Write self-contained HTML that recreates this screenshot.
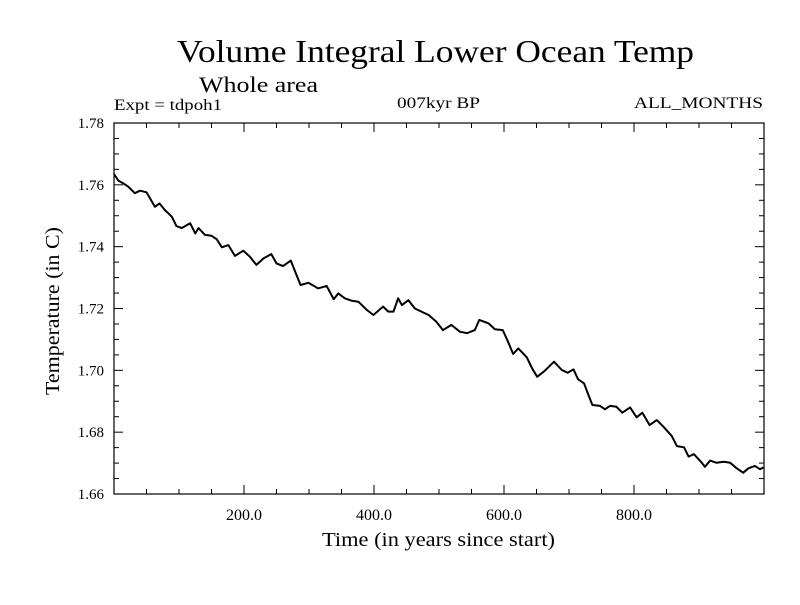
<!DOCTYPE html>
<html><head><meta charset="utf-8"><style>
html,body{margin:0;padding:0;background:#fff;}
svg text{font-family:"Liberation Serif",serif;fill:#000;}
</style></head><body>
<svg id="chart" width="800" height="600" viewBox="0 0 800 600" xmlns="http://www.w3.org/2000/svg">
<rect x="0" y="0" width="800" height="600" fill="#fff"/>
<text x="177" y="62" font-size="32" textLength="517" lengthAdjust="spacingAndGlyphs">Volume Integral Lower Ocean Temp</text>
<text x="199" y="92" font-size="22" textLength="119" lengthAdjust="spacingAndGlyphs">Whole area</text>
<text x="114" y="110" font-size="16" textLength="108" lengthAdjust="spacingAndGlyphs">Expt = tdpoh1</text>
<text x="397" y="108" font-size="16" textLength="83" lengthAdjust="spacingAndGlyphs">007kyr BP</text>
<text x="634" y="108" font-size="16" textLength="129" lengthAdjust="spacingAndGlyphs">ALL_MONTHS</text>
<text x="322" y="546" font-size="20" textLength="233" lengthAdjust="spacingAndGlyphs">Time (in years since start)</text>
<text x="0" y="0" font-size="20" transform="translate(59,395) rotate(-90)" textLength="168" lengthAdjust="spacingAndGlyphs">Temperature (in C)</text>
<g id="axes"></g>
<path id="series" fill="none" stroke="#000" stroke-width="2" stroke-linejoin="round"/>
<rect x="114" y="123" width="650" height="371" fill="none" stroke="#000" stroke-width="1.2"/>
</svg>
<script>
const years = [0,7,14,22,32,40,50,63,70,78,89,96,104,117,125,130,140,150,158,166,176,186,199,209,219,230,242,250,260,272,287,299,314,327,338,345,355,366,376,389,399,414,422,430,437,443,453,463,473,484,496,506,519,532,543,555,562,576,586,598,605,614,622,635,643,651,663,677,689,698,707,714,723,730,736,748,755,763,773,782,794,804,813,824,835,845,858,866,877,884,892,903,909,917,927,938,948,958,968,976,986,994,999];
const temps = [1.7635,1.7613,1.7605,1.7594,1.7573,1.7581,1.7576,1.7529,1.754,1.7519,1.7497,1.7467,1.746,1.7476,1.7443,1.746,1.7438,1.7435,1.7424,1.7398,1.7405,1.737,1.7387,1.7368,1.7341,1.7362,1.7376,1.7346,1.7337,1.7355,1.7276,1.7283,1.7265,1.7273,1.723,1.7249,1.7233,1.7225,1.7222,1.7195,1.7179,1.7206,1.719,1.719,1.7233,1.7211,1.7227,1.72,1.719,1.7179,1.7157,1.713,1.7147,1.7125,1.712,1.713,1.7163,1.7152,1.7133,1.713,1.7098,1.7053,1.7071,1.7042,1.7007,1.6979,1.6999,1.7028,1.7001,1.6992,1.7003,1.6971,1.6958,1.692,1.6888,1.6885,1.6874,1.6885,1.6882,1.6863,1.688,1.6848,1.6863,1.6823,1.6839,1.6818,1.6788,1.6755,1.6751,1.6721,1.6729,1.6704,1.6688,1.6708,1.6701,1.6704,1.6701,1.6683,1.6669,1.6683,1.6691,1.668,1.6686];
const xTicks = [200,400,600,800];
const xTickLabels = ["200.0","400.0","600.0","800.0"];
const yTicks = [1.66,1.68,1.70,1.72,1.74,1.76,1.78];
const yTickLabels = ["1.66","1.68","1.70","1.72","1.74","1.76","1.78"];

const X0=114,X1=764,Y0=494,Y1=123,XMIN=0,XMAX=1000,YMIN=1.66,YMAX=1.78;
const sx=v=>X0+(v-XMIN)/(XMAX-XMIN)*(X1-X0);
const sy=v=>Y0-(v-YMIN)/(YMAX-YMIN)*(Y0-Y1);
const NS="http://www.w3.org/2000/svg";
const axes=document.getElementById('axes');
function mk(tag,attrs){const e=document.createElementNS(NS,tag);for(const k in attrs)e.setAttribute(k,attrs[k]);axes.appendChild(e);return e;}
for(let v=50;v<XMAX;v+=50){
  const major=v%200===0;const L=major?9:5;
  const t1=mk('line',{x1:sx(v),x2:sx(v),y1:Y0,y2:Y0-L,stroke:'#000','stroke-width':1});
  
  
  const t2=mk('line',{x1:sx(v),x2:sx(v),y1:Y1,y2:Y1+L,stroke:'#000','stroke-width':1});
  
  
}
xTicks.forEach((v,i)=>{
  const t=mk('text',{x:sx(v),y:520,'font-size':16,'text-anchor':'middle'});
  t.textContent=xTickLabels[i];
  
  
});
for(let k=0;k<=24;k++){
  const v=YMIN+k*0.005;const major=k%4===0;const L=major?9:5;
  const t1=mk('line',{x1:X0,x2:X0+L,y1:sy(v),y2:sy(v),stroke:'#000','stroke-width':1});
  
  
  const t2=mk('line',{x1:X1,x2:X1-L,y1:sy(v),y2:sy(v),stroke:'#000','stroke-width':1});
  
  
}
yTicks.forEach((v,i)=>{
  const t=mk('text',{x:104,y:sy(v)+5,'font-size':15,'text-anchor':'end'});
  t.textContent=yTickLabels[i];
  
  
});
document.getElementById('series').setAttribute('d',years.map((y,i)=>(i?'L':'M')+sx(y).toFixed(1)+','+sy(temps[i]).toFixed(1)).join(''));
</script>
</body></html>
